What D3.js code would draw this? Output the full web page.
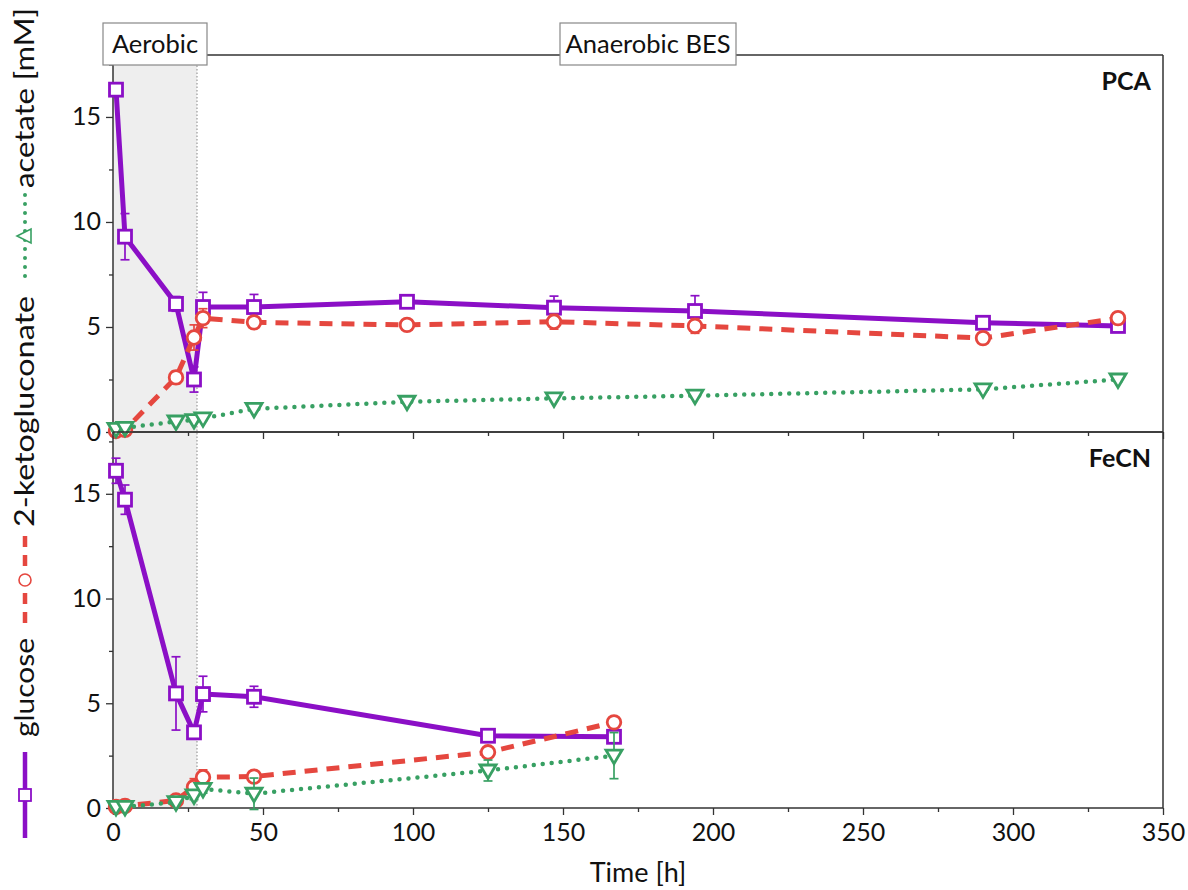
<!DOCTYPE html>
<html>
<head>
<meta charset="utf-8">
<script src="https://cdn.jsdelivr.net/npm/d3@7"></script>
<style>
  html, body { margin: 0; padding: 0; background: #fff; }
  svg { display: block; font-family: Lato, "Open Sans", sans-serif; }
</style>
</head>
<body>
<svg id="chart" width="1188" height="890"></svg>
<script>
// ---- data ----
const pcaTime = [1, 4, 21, 27, 30, 47, 98, 147, 194, 290, 335];
const pcaGlucose = [16.3, 9.3, 6.1, 2.5, 5.95, 5.95, 6.2, 5.92, 5.76, 5.2, 5.05];
const pcaGlucoseErr = [0.15, 1.1, 0.35, 0.6, 0.7, 0.6, 0.1, 0.55, 0.73, 0.1, 0.1];
const pcaKeto = [0.05, 0.1, 2.6, 4.5, 5.42, 5.22, 5.1, 5.25, 5.05, 4.47, 5.42];
const pcaKetoErr = [0.05, 0.1, 0.3, 0.6, 0.45, 0.25, 0.1, 0.35, 0.35, 0.1, 0.2];
const pcaAcetate = [0.15, 0.2, 0.5, 0.57, 0.65, 1.1, 1.44, 1.6, 1.73, 2.03, 2.5];
const pcaAcetateErr = [0.1, 0.2, 0.1, 0.1, 0.1, 0.1, 0.1, 0.1, 0.1, 0.1, 0.1];

const fecnTime = [1, 4, 21, 27, 30, 47, 125, 167];
const fecnGlucose = [16.1, 14.72, 5.47, 3.61, 5.44, 5.31, 3.45, 3.4];
const fecnGlucoseErr = [0.6, 0.7, 1.75, 0.3, 0.85, 0.5, 0.1, 0.1];
const fecnKeto = [0.05, 0.1, 0.36, 1.0, 1.47, 1.5, 2.66, 4.09];
const fecnKetoErr = [0.05, 0.05, 0.2, 0.4, 0.35, 0.1, 0.1, 0.1];
const fecnAcetate = [0.05, 0.05, 0.28, 0.6, 0.91, 0.68, 1.79, 2.5];
const fecnAcetateErr = [0.05, 0.05, 0.15, 0.2, 0.2, 0.75, 0.5, 1.1];

const xTicks = [0, 50, 100, 150, 200, 250, 300, 350];
const yTicks = [0, 5, 10, 15];
const panelNames = ["PCA", "FeCN"];
const phaseLabels = ["Aerobic", "Anaerobic BES"];
const aerobicEnd = 28;
const axisLabelParts = ["glucose", "2-ketogluconate", "acetate [mM]"];

// ---- styles ----
const C = { glucose: "#8B0FC6", keto: "#E5473F", acetate: "#38A063" };
const svg = d3.select("#chart");
const left = 113, right = 1163;
const x = d3.scaleLinear().domain([0, 350]).range([left, right]);
const panels = [
  { name: panelNames[0], top: 55, bottom: 432, time: pcaTime,
    series: [
      { key: "glucose", v: pcaGlucose, e: pcaGlucoseErr },
      { key: "keto", v: pcaKeto, e: pcaKetoErr },
      { key: "acetate", v: pcaAcetate, e: pcaAcetateErr } ] },
  { name: panelNames[1], top: 432, bottom: 808, time: fecnTime,
    series: [
      { key: "glucose", v: fecnGlucose, e: fecnGlucoseErr },
      { key: "keto", v: fecnKeto, e: fecnKetoErr },
      { key: "acetate", v: fecnAcetate, e: fecnAcetateErr } ] }
];

// shaded aerobic region spanning both panels
svg.append("rect")
  .attr("x", x(0)).attr("y", 55)
  .attr("width", x(aerobicEnd) - x(0)).attr("height", 808 - 55)
  .attr("fill", "#EEEEEE");
svg.append("line")
  .attr("x1", x(aerobicEnd)).attr("x2", x(aerobicEnd))
  .attr("y1", 55).attr("y2", 808)
  .attr("stroke", "#9a9a9a").attr("stroke-width", 1.2)
  .attr("stroke-dasharray", "1.5,2");

const axisColor = "#333";

panels.forEach((p, pi) => {
  const y = d3.scaleLinear().domain([0, 17.95]).range([p.bottom, p.top]);
  const g = svg.append("g");

  g.append("line").attr("x1", left).attr("x2", right).attr("y1", p.top).attr("y2", p.top)
    .attr("stroke", axisColor).attr("stroke-width", 1.5);
  g.append("line").attr("x1", right).attr("x2", right).attr("y1", p.top).attr("y2", p.bottom)
    .attr("stroke", axisColor).attr("stroke-width", 1.5);

  const xAxis = d3.axisBottom(x).tickValues(xTicks).tickSize(7).tickPadding(8)
    .tickFormat(pi === 1 ? d3.format("d") : () => "");
  const xg = g.append("g").attr("transform", `translate(0,${p.bottom})`).call(xAxis);
  const xMinor = d3.axisBottom(x).tickValues(d3.range(25, 350, 50)).tickSize(4).tickFormat(() => "");
  const xmg = g.append("g").attr("transform", `translate(0,${p.bottom})`).call(xMinor);
  xmg.select(".domain").remove();

  const yAxis = d3.axisLeft(y).tickValues(yTicks).tickSize(7).tickPadding(5).tickFormat(d3.format("d"));
  const yg = g.append("g").attr("transform", `translate(${left},0)`).call(yAxis);
  const yMinor = d3.axisLeft(y).tickValues([2.5, 7.5, 12.5, 17.5]).tickSize(4).tickFormat(() => "");
  const ymg = g.append("g").attr("transform", `translate(${left},0)`).call(yMinor);
  ymg.select(".domain").remove();

  [xg, xmg, yg, ymg].forEach(a => {
    a.selectAll(".domain").attr("stroke", axisColor).attr("stroke-width", 1.5);
    a.selectAll(".tick line").attr("stroke", axisColor).attr("stroke-width", 1.3);
    a.selectAll("text").attr("font-family", "Lato, 'Open Sans', sans-serif")
      .attr("font-size", 25).attr("fill", "#111");
  });
  xg.select(".domain").attr("d", `M${left},0H${right}`);
  yg.select(".domain").attr("d", `M0,${p.bottom}V${p.top}`);

  g.append("text").attr("x", 1151).attr("y", p.top + 35)
    .attr("text-anchor", "end").attr("font-weight", "bold").attr("font-size", 25)
    .attr("fill", "#111").text(p.name);

  const drawOrder = ["glucose", "keto", "acetate"];
  drawOrder.forEach(key => {
    const s = p.series.find(d => d.key === key);
    const pts = p.time.map((t, i) => ({ t, v: s.v[i], e: s.e[i] }));
    const line = d3.line().x(d => x(d.t)).y(d => y(d.v));
    const path = g.append("path").datum(pts).attr("d", line)
      .attr("fill", "none").attr("stroke", C[key]);
    if (key === "glucose") path.attr("stroke-width", 5).attr("stroke-linejoin", "round");
    if (key === "keto") path.attr("stroke-width", 5).attr("stroke-dasharray", "13,9");
    if (key === "acetate") path.attr("stroke-width", 4.5).attr("stroke-linecap", "round").attr("stroke-dasharray", "0,9");

    const eb = g.append("g").attr("stroke", C[key]).attr("stroke-width", 1.7);
    pts.forEach(d => {
      const cx = x(d.t), y1 = y(d.v - d.e), y2 = y(d.v + d.e);
      eb.append("line").attr("x1", cx).attr("x2", cx).attr("y1", y1).attr("y2", y2);
      eb.append("line").attr("x1", cx - 4.5).attr("x2", cx + 4.5).attr("y1", y1).attr("y2", y1);
      eb.append("line").attr("x1", cx - 4.5).attr("x2", cx + 4.5).attr("y1", y2).attr("y2", y2);
    });

    const mg = g.append("g").attr("fill", "white").attr("stroke", C[key]).attr("stroke-width", 2.8);
    pts.forEach(d => {
      const cx = x(d.t), cy = y(d.v);
      if (key === "glucose") {
        mg.append("rect").attr("x", cx - 6.5).attr("y", cy - 6.5).attr("width", 13).attr("height", 13);
      } else if (key === "keto") {
        mg.append("circle").attr("cx", cx).attr("cy", cy).attr("r", 6.8);
      } else {
        mg.append("path").attr("d", `M${cx - 8},${cy - 5.5} L${cx + 8},${cy - 5.5} L${cx},${cy + 8} Z`);
      }
    });
  });
});

function phaseBox(label, x0, x1) {
  svg.append("rect").attr("x", x0).attr("y", 23).attr("width", x1 - x0).attr("height", 42)
    .attr("fill", "white").attr("stroke", "#888").attr("stroke-width", 1.2);
  svg.append("text").attr("x", (x0 + x1) / 2).attr("y", 53).attr("text-anchor", "middle")
    .attr("font-size", 25.5).attr("fill", "#111").text(label);
}
phaseBox(phaseLabels[0], 103, 207);
phaseBox(phaseLabels[1], 560, 736);

svg.append("text").attr("x", (left + right) / 2).attr("y", 882).attr("text-anchor", "middle")
  .attr("font-size", 27).attr("fill", "#111").text("Time [h]");

const yl = svg.append("g");
const lx = 25;
yl.append("line").attr("x1", lx).attr("x2", lx).attr("y1", 752).attr("y2", 838)
  .attr("stroke", C.glucose).attr("stroke-width", 4.5);
yl.append("rect").attr("x", lx - 6).attr("y", 795 - 6).attr("width", 12).attr("height", 12)
  .attr("fill", "white").attr("stroke", C.glucose).attr("stroke-width", 1.8);
yl.append("line").attr("x1", lx).attr("x2", lx).attr("y1", 536).attr("y2", 623)
  .attr("stroke", C.keto).attr("stroke-width", 4.5).attr("stroke-dasharray", "11,8");
yl.append("circle").attr("cx", lx).attr("cy", 580).attr("r", 6)
  .attr("fill", "white").attr("stroke", C.keto).attr("stroke-width", 1.6);
yl.append("line").attr("x1", lx).attr("x2", lx).attr("y1", 195).attr("y2", 282)
  .attr("stroke", C.acetate).attr("stroke-width", 4).attr("stroke-linecap", "round")
  .attr("stroke-dasharray", "0,9");
yl.append("path").attr("d", `M${lx - 7},${242} L${lx + 7},${242} L${lx},${228} Z`)
  .attr("transform", `rotate(-90 ${lx} 236)`)
  .attr("fill", "white").attr("stroke", C.acetate).attr("stroke-width", 1.6);
const labelSpans = [[737, 638], [527, 296], [188, 8]];
axisLabelParts.forEach((t, i) => {
  const [y0, y1] = labelSpans[i];
  yl.append("text").attr("transform", `translate(34,${y0}) rotate(-90)`)
    .attr("font-size", 26).attr("fill", "#111")
    .attr("textLength", y0 - y1).attr("lengthAdjust", "spacingAndGlyphs")
    .text(t);
});
</script>
</body>
</html>
